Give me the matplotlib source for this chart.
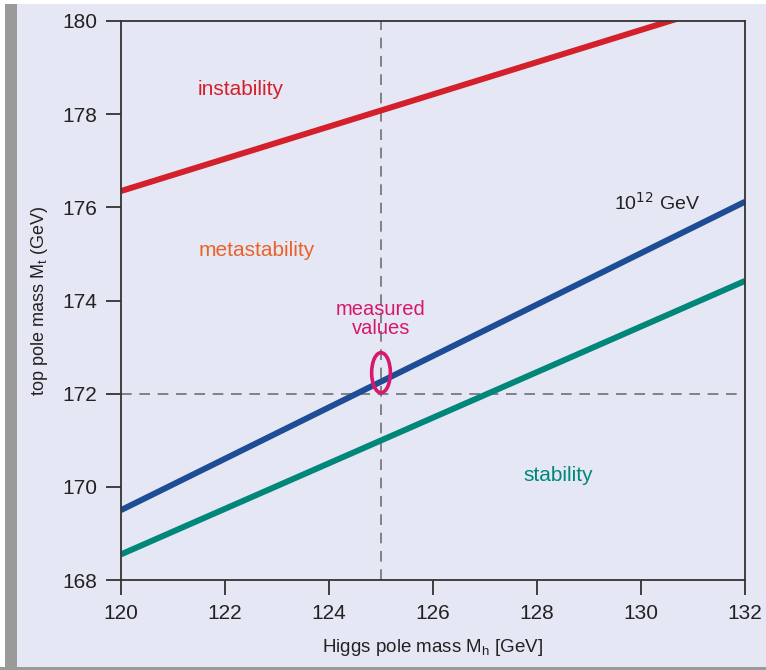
import numpy as np
import matplotlib.pyplot as plt
from matplotlib.patches import Ellipse, Rectangle

plt.rcParams['font.family'] = ['Liberation Sans', 'DejaVu Sans']

# boundary lines: (Higgs mass, top mass) at the two ends
mh_ends = [120, 132]
instability_mt = [176.35, 180.50]
planck12_mt = [169.50, 176.12]
stability_mt = [168.55, 174.42]

mh_meas = 125.0
mt_meas = 172.0
ell_center = (125.0, 172.45)
ell_size = (0.36, 0.86)

bg = '#e5e8f4'
fig = plt.figure(figsize=(7.66, 6.70), dpi=100, facecolor=bg)
# frame decorations of the original figure panel
fig.patches.append(Rectangle((0, 0), 5 / 766, 1, transform=fig.transFigure,
                             facecolor='white', edgecolor='none', zorder=-1))
fig.patches.append(Rectangle((5 / 766, 0), 12 / 766, 1, transform=fig.transFigure,
                             facecolor='#9a9a9a', edgecolor='none', zorder=-1))
fig.patches.append(Rectangle((0, 0), 1, 3 / 670, transform=fig.transFigure,
                             facecolor='#9a9a9a', edgecolor='none', zorder=-1))
fig.patches.append(Rectangle((0, 1 - 4 / 670), 1, 4 / 670, transform=fig.transFigure,
                             facecolor='white', edgecolor='none', zorder=-1))

ax = fig.add_axes([121 / 766, 90 / 670, 624 / 766, 559 / 670])
ax.set_facecolor(bg)

ax.plot(mh_ends, instability_mt, color='#d3202a', lw=4.3, solid_capstyle='butt')
ax.plot(mh_ends, planck12_mt, color='#1e4c95', lw=4.3, solid_capstyle='butt')
ax.plot(mh_ends, stability_mt, color='#00877a', lw=4.3, solid_capstyle='butt')

ax.axvline(mh_meas, color='#666666', lw=1.1, ls=(0, (7, 5)), zorder=0)
ax.axhline(mt_meas, color='#666666', lw=1.1, ls=(0, (7, 5)), zorder=0)

ax.add_patch(Ellipse(ell_center, ell_size[0], ell_size[1], fill=False,
                     edgecolor='#d6186e', lw=2.6, zorder=5))

ax.text(122.3, 178.52, 'instability', color='#d3202a', fontsize=15, ha='center', va='center')
ax.text(122.6, 175.08, 'metastability', color='#e8632a', fontsize=15, ha='center', va='center')
ax.text(130.3, 176.1, r'10$^{12}$ GeV', color='#222222', fontsize=14, ha='center', va='center')
ax.text(125.0, 173.6, 'measured\nvalues', color='#d6186e', fontsize=14.5, ha='center',
        va='center', linespacing=1.0)
ax.text(128.4, 170.25, 'stability', color='#00877a', fontsize=15, ha='center', va='center')

ax.set_xlim(120, 132)
ax.set_ylim(168, 180)
ax.set_xticks(np.arange(120, 133, 2))
ax.set_yticks(np.arange(168, 181, 2))
ax.tick_params(direction='out', length=11, width=1.2, labelsize=15, pad=6,
               colors='#222222')
for s in ax.spines.values():
    s.set_color('#333333')
    s.set_linewidth(1.3)

ax.set_xlabel(r'Higgs pole mass M$_\mathregular{h}$ [GeV]', fontsize=13.5,
              labelpad=10, color='#222222')
ax.set_ylabel(r'top pole mass M$_\mathregular{t}$ (GeV)', fontsize=13,
              labelpad=9, color='#222222')

fig.savefig('out.png', dpi=100, facecolor=bg)
